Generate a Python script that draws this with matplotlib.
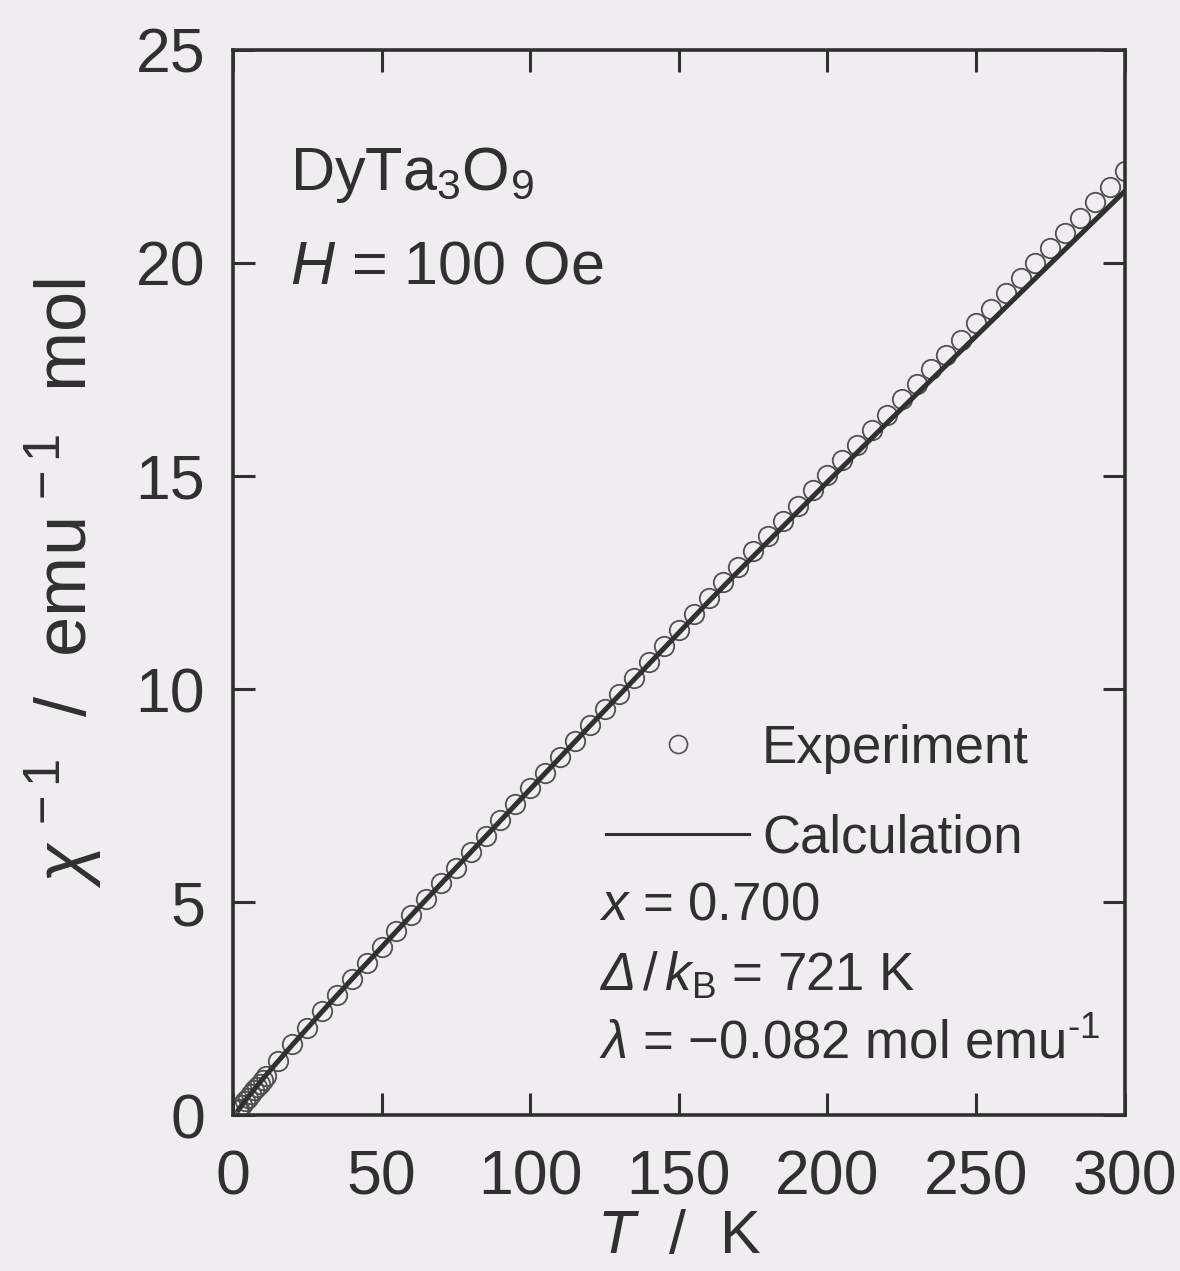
import matplotlib.pyplot as plt
from matplotlib.lines import Line2D

plt.rcParams['font.family'] = ['Liberation Sans', 'DejaVu Sans']
plt.rcParams['mathtext.fontset'] = 'custom'
plt.rcParams['mathtext.rm'] = 'Liberation Sans'
plt.rcParams['mathtext.it'] = 'Liberation Sans:italic'
plt.rcParams['mathtext.bf'] = 'Liberation Sans:bold'
plt.rcParams['mathtext.sf'] = 'Liberation Sans:italic'  # used for the italic capital Delta

# Experiment: inverse susceptibility (emu^-1 mol) vs temperature (K)
T_exp = [1.8, 2, 3, 4, 5, 6, 7, 8, 9, 10, 11,
         15, 20, 25, 30, 35, 40, 45, 50, 55, 60, 65, 70, 75, 80, 85, 90, 95,
         100, 105, 110, 115, 120, 125, 130, 135, 140, 145, 150, 155, 160,
         165, 170, 175, 180, 185, 190, 195, 200, 205, 210, 215, 220, 225,
         230, 235, 240, 245, 250, 255, 260, 265, 270, 275, 280, 285, 290,
         295, 300]
chi_inv_exp = [0.12, 0.15, 0.24, 0.32, 0.41, 0.49, 0.58, 0.66, 0.74, 0.83, 0.91,
               1.27, 1.66, 2.05, 2.44, 2.82, 3.20, 3.57, 3.95, 4.32, 4.70, 5.07,
               5.44, 5.81, 6.18, 6.55, 6.92, 7.29, 7.67, 8.04, 8.41, 8.78, 9.15,
               9.52, 9.89, 10.27, 10.64, 11.01, 11.38, 11.76, 12.13, 12.50, 12.86,
               13.23, 13.58, 13.94, 14.30, 14.66, 15.02, 15.38, 15.73, 16.09,
               16.44, 16.80, 17.15, 17.50, 17.85, 18.20, 18.58, 18.93, 19.29,
               19.64, 20.00, 20.35, 20.70, 21.06, 21.42, 21.78, 22.15]

# Calculation curve
T_calc = [1.8, 5, 10, 20, 30, 40, 50, 60, 70, 80, 90, 100, 110, 120, 130, 140,
          150, 160, 170, 180, 190, 200, 210, 220, 230, 240, 250, 260, 270, 280,
          290, 300]
chi_inv_calc = [0.12, 0.42, 0.85, 1.65, 2.43, 3.19, 3.94, 4.69, 5.43, 6.17,
                6.91, 7.65, 8.39, 9.13, 9.86, 10.59, 11.32, 12.05, 12.76, 13.46,
                14.16, 14.86, 15.55, 16.24, 16.92, 17.60, 18.28, 18.96, 19.64,
                20.32, 21.00, 21.68]

bg = '#f0edf0'
ink = '#303030'

fig = plt.figure(figsize=(11.8, 12.71), dpi=100, facecolor=bg)
ax = fig.add_axes([0.1975, 0.1227, 0.7555, 0.838])
ax.set_facecolor(bg)

ax.plot(T_exp, chi_inv_exp, 'o', ms=14, mfc='none', mec='#505050', mew=1.3, zorder=2)
ax.plot(T_calc, chi_inv_calc, '-', color=ink, lw=3.6, zorder=3)

ax.set_xlim(0, 300)
ax.set_ylim(0, 25)
ax.set_xticks([0, 50, 100, 150, 200, 250, 300])
ax.set_yticks([0, 5, 10, 15, 20, 25])
for s in ax.spines.values():
    s.set_linewidth(2.6)
    s.set_color(ink)
ax.tick_params(direction='in', top=True, right=True, length=16, width=2.2,
               color=ink, labelcolor=ink, labelsize=45)
ax.tick_params(axis='x', pad=24)
ax.tick_params(axis='y', pad=20)

ax.set_xlabel(r'$T$  /  K', fontsize=44, color=ink, labelpad=1)
ax.set_ylabel(r'$\chi^{\,-1}$  /  emu$^{\,-1}$  mol', fontsize=52, color=ink, labelpad=22)

ax.text(0.064, 0.883, r'DyTa$_3$O$_9$', transform=ax.transAxes, fontsize=44,
        color=ink, va='center', ha='left')
ax.text(0.064, 0.795, r'$H$ = 100 Oe', transform=ax.transAxes, fontsize=44,
        color=ink, va='center', ha='left')

handles = [Line2D([], [], ls='none', marker='o', ms=13, mfc='none', mec='#505050', mew=1.2),
           Line2D([], [], color=ink, lw=2.2)]
leg = ax.legend(handles, ['Experiment', 'Calculation'], loc='upper left',
                bbox_to_anchor=(0.395, 0.387), frameon=False, fontsize=38,
                handlelength=2.7, handletextpad=0.25, labelspacing=0.75,
                borderaxespad=0)
for t in leg.get_texts():
    t.set_color(ink)

ax.text(0.411, 0.197, r'$x$ = 0.700', transform=ax.transAxes, fontsize=38,
        color=ink, va='center', ha='left')
ax.text(0.411, 0.131, r'$\mathsf{\Delta}\,/\,k_{\rm B}$ = 721 K', transform=ax.transAxes,
        fontsize=38, color=ink, va='center', ha='left')
ax.text(0.411, 0.066, r'$\lambda$ = $-$0.082 mol emu$^{\text{-1}}$', transform=ax.transAxes,
        fontsize=38, color=ink, va='center', ha='left')

fig.savefig('out.png', dpi=100, facecolor=bg)
